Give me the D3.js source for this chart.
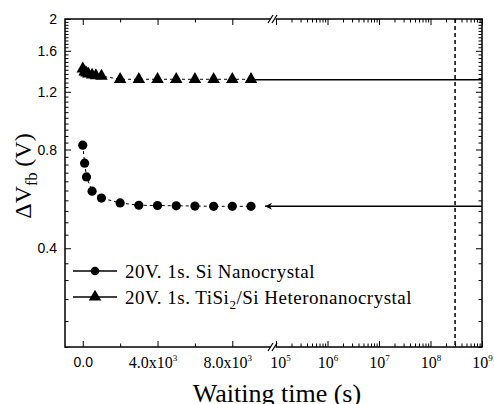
<!DOCTYPE html>
<html>
<head>
<meta charset="utf-8">
<script src="https://cdnjs.cloudflare.com/ajax/libs/d3/7.8.5/d3.min.js"></script>
<style>
body { margin: 0; background: #fff; }
svg { display: block; }
</style>
</head>
<body>
<script>
// Si nanocrystal
var siTime = [0, 100, 200, 500, 1000, 2000, 3000, 4000, 5000, 6000, 7000, 8000, 9000];
var siDv = [0.825, 0.727, 0.66, 0.597, 0.569, 0.55, 0.541, 0.54, 0.539, 0.538, 0.537, 0.537, 0.537];
// TiSi2/Si heteronanocrystal
var tiTime = [0, 100, 200, 300, 500, 700, 1000, 2000, 3000, 4000, 5000, 6000, 7000, 8000, 9000];
var tiDv = [1.41, 1.38, 1.37, 1.36, 1.35, 1.345, 1.34, 1.31, 1.31, 1.31, 1.31, 1.31, 1.31, 1.31, 1.31];
// extrapolation out to long times
var siExtTime = [9750, 1e9];
var siExtDv = [0.537, 0.537];
var tiExtTime = [9000, 1e9];
var tiExtDv = [1.305, 1.305];
var tenYears = 3e8;

var yMajor = [0.4, 0.8, 1.2, 1.6, 2];
var xLinMajor = [0, 4000, 8000];
var xLinMinor = [2000, 6000];
var xLinLabels = ["0.0", "4.0x10^3", "8.0x10^3"];
var xLogMajor = [1e5, 1e6, 1e7, 1e8, 1e9];
var xLogLabels = ["10^5", "10^6", "10^7", "10^8", "10^9"];
var legendNames = ["20V. 1s. Si Nanocrystal", "20V. 1s. TiSi_2/Si Heteronanocrystal"];

var svg = d3.select("body").append("svg")
    .attr("width", 494)
    .attr("height", 404);

// plot box (note: "top" is taken by window.top)
var pL = 65, pR = 482, pT = 19, pB = 347;
var majorLen = 6, minorLen = 3.5;

var xLin = d3.scaleLinear().domain([-950, 10070]).range([pL, 271]);
var xLog = d3.scaleLog().domain([1e5, 1e9]).range([276, pR]);
function x(t) {
    if (t <= 10070) return xLin(t);
    return xLog(Math.max(t, 1e5));
}
var y = d3.scaleLog().domain([0.2, 2]).range([pB, pT]);

var yMinor = [];
for (var i = 5; i <= 50; i++) {
    var v = +(i * 0.04).toFixed(2);
    if (yMajor.indexOf(v) < 0) yMinor.push(v);
}
var xLogMinor = [];
[1e5, 1e6, 1e7, 1e8].forEach(function(p) {
    for (var k = 2; k <= 9; k++) xLogMinor.push(k * p);
});

function clean(g) {
    g.select(".domain").remove();
    g.selectAll(".tick line").attr("stroke", "#000").attr("stroke-width", 1);
}

// y axes (left with labels, right mirrored)
svg.append("g").attr("transform", "translate(" + pL + ",0)")
    .call(d3.axisLeft(y).tickValues(yMinor).tickSize(-minorLen).tickFormat(""))
    .call(clean);
svg.append("g").attr("transform", "translate(" + pL + ",0)")
    .call(d3.axisLeft(y).tickValues(yMajor).tickSize(-majorLen).tickPadding(8)
        .tickFormat(function(d) { return d === 2 ? "2" : d3.format(".1f")(d); }))
    .call(clean)
    .selectAll("text")
    .attr("font-family", "Liberation Sans, Arial, sans-serif")
    .attr("font-size", 14)
    .attr("fill", "#000");
svg.append("g").attr("transform", "translate(" + pR + ",0)")
    .call(d3.axisRight(y).tickValues(yMinor).tickSize(-minorLen).tickFormat(""))
    .call(clean);
svg.append("g").attr("transform", "translate(" + pR + ",0)")
    .call(d3.axisRight(y).tickValues(yMajor).tickSize(-majorLen).tickFormat(""))
    .call(clean);

// superscript labels like 10^3
function supLabel(sel) {
    sel.each(function(d) {
        var t = d3.select(this);
        var s = t.text().split("^");
        t.text(s[0]);
        if (s.length > 1) {
            t.append("tspan").attr("font-size", 9).attr("dy", -7).text(s[1]);
        }
    });
}

// x axes, left linear segment
svg.append("g").attr("transform", "translate(0," + pB + ")")
    .call(d3.axisBottom(xLin).tickValues(xLinMinor).tickSize(-minorLen).tickFormat(""))
    .call(clean);
svg.append("g").attr("transform", "translate(0," + pB + ")")
    .call(d3.axisBottom(xLin).tickValues(xLinMajor).tickSize(-majorLen).tickPadding(10)
        .tickFormat(function(d, i) { return xLinLabels[i]; }))
    .call(clean)
    .selectAll("text")
    .attr("font-family", function(d) {
        return d === 0 ? "Liberation Sans, Arial, sans-serif" : "Liberation Serif, Times New Roman, serif";
    })
    .attr("font-size", function(d) { return d === 0 ? 14 : 16; })
    .attr("fill", "#000")
    .attr("dx", function(d) { return d === 0 ? 0 : -5; })
    .call(supLabel);
svg.append("g").attr("transform", "translate(0," + pT + ")")
    .call(d3.axisTop(xLin).tickValues(xLinMinor).tickSize(-minorLen).tickFormat(""))
    .call(clean);
svg.append("g").attr("transform", "translate(0," + pT + ")")
    .call(d3.axisTop(xLin).tickValues(xLinMajor).tickSize(-majorLen).tickFormat(""))
    .call(clean);

// x axes, right log segment
svg.append("g").attr("transform", "translate(0," + pB + ")")
    .call(d3.axisBottom(xLog).tickValues(xLogMinor).tickSize(-minorLen).tickFormat(""))
    .call(clean);
svg.append("g").attr("transform", "translate(0," + pB + ")")
    .call(d3.axisBottom(xLog).tickValues(xLogMajor).tickSize(-majorLen).tickPadding(10)
        .tickFormat(function(d, i) { return xLogLabels[i]; }))
    .call(clean)
    .selectAll("text")
    .attr("font-family", "Liberation Serif, Times New Roman, serif")
    .attr("font-size", 16)
    .attr("fill", "#000")
    .attr("dx", function(d) { return d === 1e5 ? 4 : 0; })
    .call(supLabel);
svg.append("g").attr("transform", "translate(0," + pT + ")")
    .call(d3.axisTop(xLog).tickValues(xLogMinor).tickSize(-minorLen).tickFormat(""))
    .call(clean);
svg.append("g").attr("transform", "translate(0," + pT + ")")
    .call(d3.axisTop(xLog).tickValues(xLogMajor).tickSize(-majorLen).tickFormat(""))
    .call(clean);

// frame
svg.append("rect")
    .attr("x", pL).attr("y", pT)
    .attr("width", pR - pL).attr("height", pB - pT)
    .attr("fill", "none")
    .attr("stroke", "#000")
    .attr("stroke-width", 1.5);

// axis breaks
[pT, pB].forEach(function(yy) {
    svg.append("rect")
        .attr("x", 270.5).attr("y", yy - 2)
        .attr("width", 5).attr("height", 4)
        .attr("fill", "#fff");
    [0, 4].forEach(function(off) {
        svg.append("line")
            .attr("x1", 268 + off).attr("y1", yy + 4)
            .attr("x2", 273 + off).attr("y2", yy - 4)
            .attr("stroke", "#000")
            .attr("stroke-width", 1.3);
    });
});

// 10 year marker
svg.append("line")
    .attr("x1", x(tenYears)).attr("x2", x(tenYears))
    .attr("y1", pT).attr("y2", pB)
    .attr("stroke", "#000")
    .attr("stroke-width", 1.5)
    .attr("stroke-dasharray", "4,3");

// extrapolation lines
svg.append("defs").append("marker")
    .attr("id", "arrow")
    .attr("viewBox", "0 0 10 10")
    .attr("refX", 0).attr("refY", 5)
    .attr("markerWidth", 7).attr("markerHeight", 7)
    .attr("markerUnits", "userSpaceOnUse")
    .attr("orient", "auto")
    .append("path")
    .attr("d", "M0,5 L10,0 L7,5 L10,10 Z")
    .attr("fill", "#000");

var extLine = d3.line()
    .x(function(d) { return x(d[0]); })
    .y(function(d) { return y(d[1]); });

svg.append("path")
    .attr("d", extLine(d3.zip(siExtTime, siExtDv)))
    .attr("fill", "none")
    .attr("stroke", "#000")
    .attr("stroke-width", 1.5)
    .attr("marker-start", "url(#arrow)");
svg.append("path")
    .attr("d", extLine(d3.zip(tiExtTime, tiExtDv)))
    .attr("fill", "none")
    .attr("stroke", "#000")
    .attr("stroke-width", 1.5);

// data series
var siData = d3.zip(siTime, siDv);
var tiData = d3.zip(tiTime, tiDv);

svg.append("path")
    .attr("d", extLine(siData))
    .attr("fill", "none")
    .attr("stroke", "#000")
    .attr("stroke-width", 1)
    .attr("stroke-dasharray", "3,3");
svg.append("path")
    .attr("d", extLine(tiData))
    .attr("fill", "none")
    .attr("stroke", "#000")
    .attr("stroke-width", 1)
    .attr("stroke-dasharray", "3,3");

svg.selectAll("circle.si")
    .data(siData)
    .enter()
    .append("circle")
    .attr("class", "si")
    .attr("cx", function(d) { return x(d[0]); })
    .attr("cy", function(d) { return y(d[1]); })
    .attr("r", 4.6)
    .attr("fill", "#000");

var tri = d3.symbol().type(d3.symbolTriangle).size(68);
svg.selectAll("path.ti")
    .data(tiData)
    .enter()
    .append("path")
    .attr("class", "ti")
    .attr("d", tri)
    .attr("transform", function(d) { return "translate(" + x(d[0]) + "," + y(d[1]) + ")"; })
    .attr("fill", "#000");

// legend
var legend = svg.append("g").attr("transform", "translate(73,271)");
legendNames.forEach(function(name, i) {
    var g = legend.append("g").attr("transform", "translate(0," + (i * 26) + ")");
    g.append("line")
        .attr("x1", 0).attr("x2", 44)
        .attr("y1", 0).attr("y2", 0)
        .attr("stroke", "#000")
        .attr("stroke-width", 1.3);
    if (i === 0) {
        g.append("circle").attr("cx", 22).attr("cy", 0).attr("r", 4.3).attr("fill", "#000");
    } else {
        g.append("path").attr("d", tri).attr("transform", "translate(22,0)").attr("fill", "#000");
    }
    var parts = name.split("_");
    var t = g.append("text")
        .attr("x", 52).attr("y", 7)
        .attr("font-family", "Liberation Serif, Times New Roman, serif")
        .attr("font-size", 19)
        .attr("letter-spacing", 0.5)
        .attr("fill", "#000")
        .text(parts[0]);
    if (parts.length > 1) {
        t.append("tspan").attr("font-size", 13).attr("dy", 5).text(parts[1].charAt(0));
        t.append("tspan").attr("dy", -5).text(parts[1].slice(1));
    }
});

// axis titles
svg.append("text")
    .attr("x", 277).attr("y", 402)
    .attr("text-anchor", "middle")
    .attr("font-family", "Liberation Serif, Times New Roman, serif")
    .attr("font-size", 26)
    .attr("fill", "#000")
    .text("Waiting time (s)");

var yt = svg.append("text")
    .attr("transform", "translate(31,176) rotate(-90)")
    .attr("text-anchor", "middle")
    .attr("font-family", "Liberation Serif, Times New Roman, serif")
    .attr("font-size", 24)
    .attr("fill", "#000")
    .text("\u0394V");
yt.append("tspan").attr("font-size", 16).attr("dy", 6).text("fb");
yt.append("tspan").attr("dy", -6).text(" (V)");
</script>
</body>
</html>
